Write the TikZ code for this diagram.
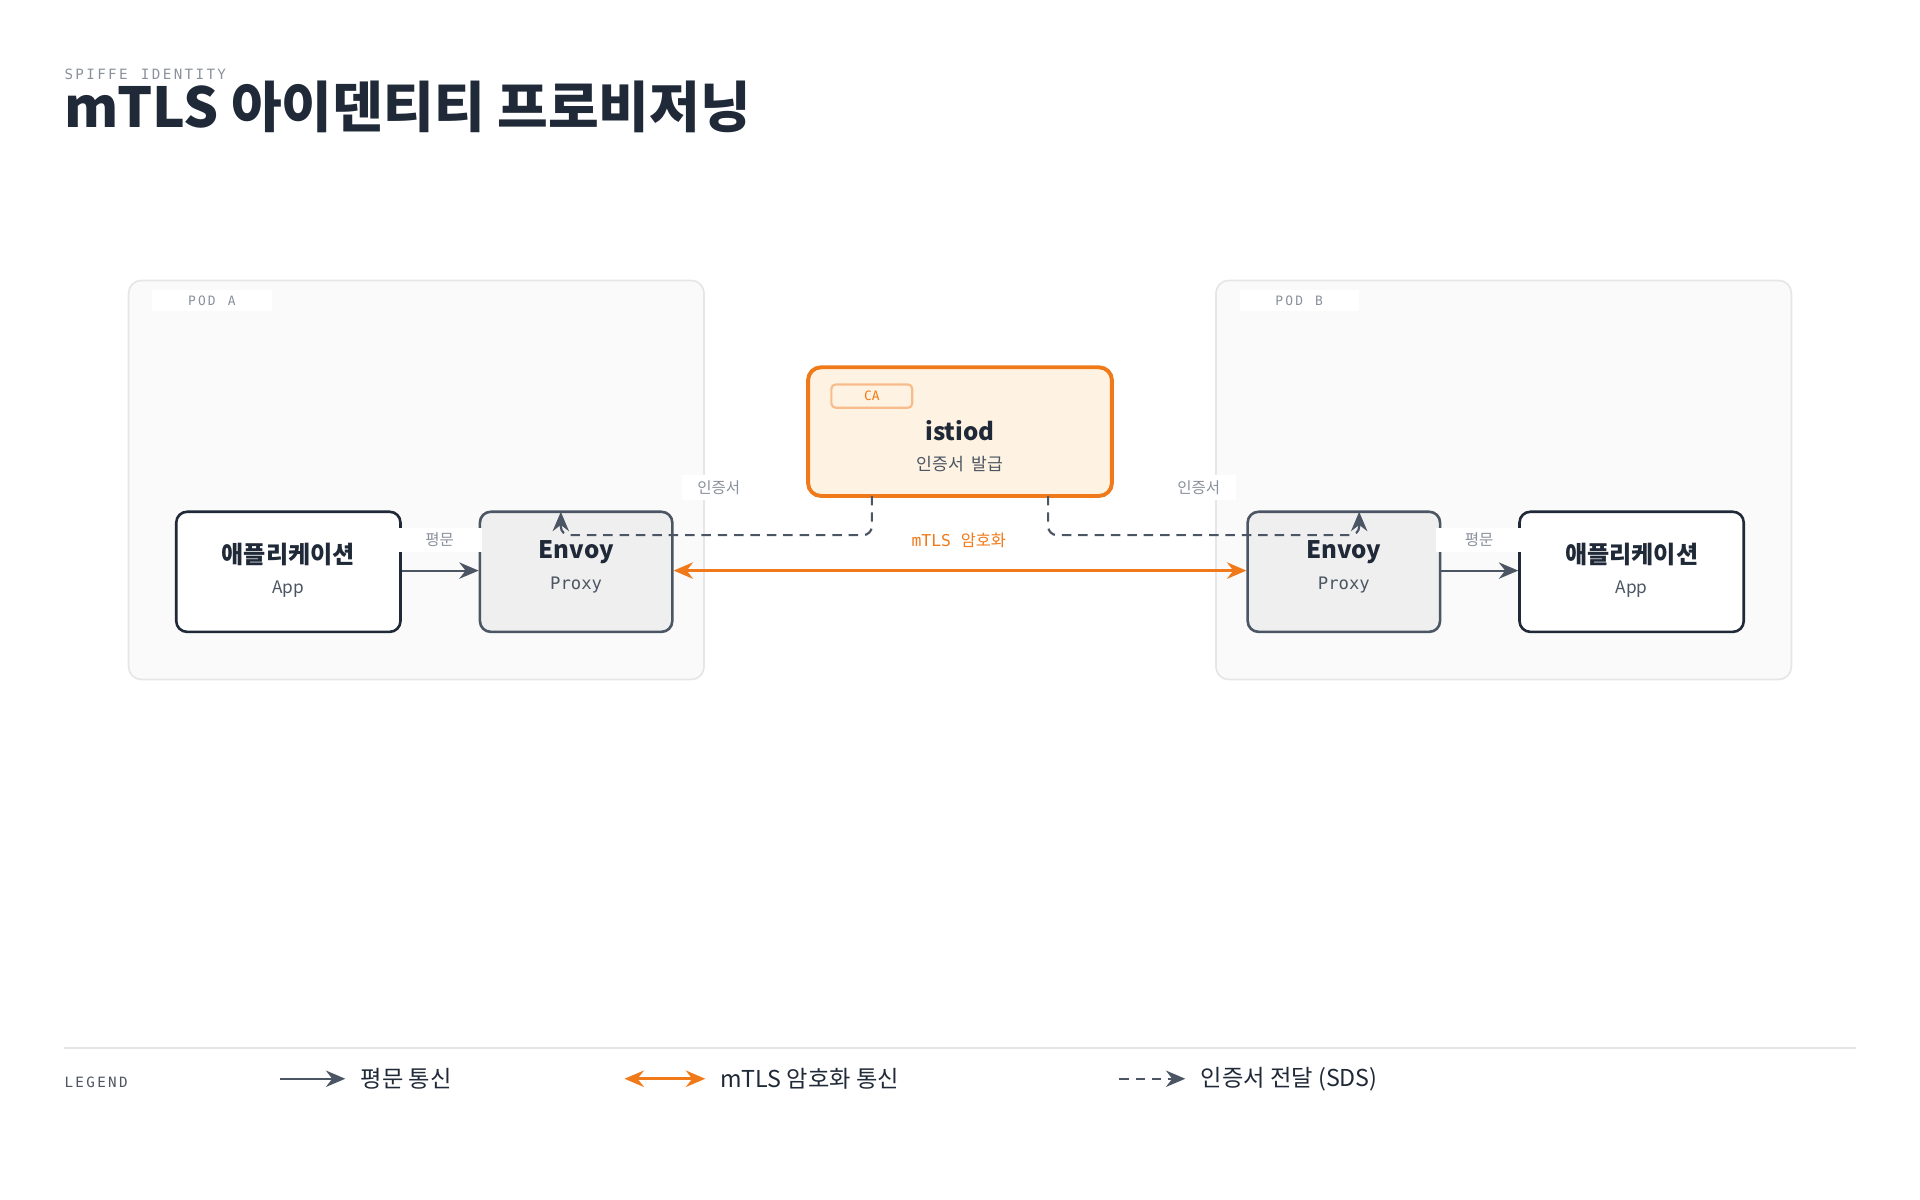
\documentclass[tikz,border=0pt]{standalone}
\usepackage{fontspec}
\setmainfont{Noto Sans CJK KR}
\setmonofont{DejaVu Sans Mono}
\newfontfamily\cjkmono{Noto Sans CJK KR}
\usetikzlibrary{positioning,arrows.meta}
\tikzset{>={Stealth[length=4.5pt,width=3.8pt]}}
\definecolor{inkColor}{HTML}{1F2937}
\definecolor{edgeColor}{HTML}{4B5563}
\definecolor{mutedColor}{HTML}{8A919C}
\definecolor{orangeColor}{HTML}{F07A1A}
\definecolor{orangeFill}{HTML}{FEF3E2}
\definecolor{podFill}{HTML}{FAFAFA}
\definecolor{podLine}{HTML}{E6E6E6}
\definecolor{proxyFill}{HTML}{EFEFEF}
\tikzset{
  pod/.style={draw=podLine, fill=podFill, rounded corners=3pt, line width=0.4pt},
  tag/.style={fill=white, inner sep=0pt, minimum height=0.17cm, font=\ttfamily\fontsize{3pt}{3pt}\selectfont, text=mutedColor},
  appbox/.style={draw=inkColor, fill=white, rounded corners=2.5pt, line width=0.6pt, minimum width=1.83cm, minimum height=0.98cm},
  proxybox/.style={draw=edgeColor, fill=proxyFill, rounded corners=2.5pt, line width=0.6pt, minimum width=1.57cm, minimum height=0.98cm},
  bigtext/.style={font=\bfseries\fontsize{5.6pt}{6pt}\selectfont, text=inkColor},
  subtext/.style={font=\fontsize{4pt}{4pt}\selectfont, text=edgeColor},
  lbl/.style={fill=white, inner sep=1.2pt, font=\fontsize{3.6pt}{4pt}\selectfont, text=mutedColor},
  plain/.style={->, edgeColor, line width=0.5pt},
  cert/.style={->, edgeColor, dashed, dash pattern=on 2.2pt off 1.6pt, line width=0.5pt, rounded corners=2pt},
  secure/.style={<->, orangeColor, line width=0.7pt},
  legendtext/.style={font=\fontsize{5.4pt}{6pt}\selectfont, text=inkColor, anchor=west, inner sep=0pt}
}
\begin{document}
\begin{tikzpicture}[x=0.01cm,y=-0.01cm]
\useasboundingbox (0,0) rectangle (1568,980);
% title
\node[anchor=west, inner sep=0pt, font=\ttfamily\fontsize{3.3pt}{4pt}\selectfont, text=mutedColor] (kicker) at (52,61) {S\,P\,I\,F\,F\,E\, \,I\,D\,E\,N\,T\,I\,T\,Y};
\node[anchor=west, inner sep=0pt, font=\bfseries\fontsize{12.8pt}{14pt}\selectfont, text=inkColor] (title) at (52,87) {mTLS 아이덴티티 프로비저닝};
% pods
\draw[pod] (105,229) rectangle (575,555);
\draw[pod] (993,229) rectangle (1463,555);
\node[tag, minimum width=0.98cm] (podA) at (173,245.5) {P\,O\,D\, \,A};
\node[tag, minimum width=0.97cm] (podB) at (1061,245.5) {P\,O\,D\, \,B};
% boxes
\node[appbox] (appA) at (235.5,467) {};
\node[bigtext] at (235.5,453) {애플리케이션};
\node[subtext] at (235.5,481) {App};
\node[proxybox] (envoyA) at (470.5,467) {};
\node[bigtext] at (470.5,451) {Envoy};
\node[subtext, font=\ttfamily\fontsize{4pt}{4pt}\selectfont] at (470.5,478) {Proxy};
\node[proxybox] (envoyB) at (1097.5,467) {};
\node[bigtext] at (1097.5,451) {Envoy};
\node[subtext, font=\ttfamily\fontsize{4pt}{4pt}\selectfont] at (1097.5,478) {Proxy};
\node[appbox] (appB) at (1332.5,467) {};
\node[bigtext] at (1332.5,453) {애플리케이션};
\node[subtext] at (1332.5,481) {App};
% istiod
\node[draw=orangeColor, fill=orangeFill, line width=0.9pt, rounded corners=3pt, minimum width=2.48cm, minimum height=1.05cm] (istiod) at (784,352.5) {};
\node[draw=orangeColor!50, fill=orangeFill, rounded corners=1pt, line width=0.5pt, minimum width=0.66cm, minimum height=0.19cm, inner sep=0pt, font=\ttfamily\fontsize{3pt}{3pt}\selectfont, text=orangeColor] (ca) at (712,323.5) {CA};
\node[font=\bfseries\fontsize{5.6pt}{6pt}\selectfont, text=inkColor] at (784,352) {istiod};
\node[subtext] at (784,379) {인증서\ \ 발급};
% connectors
\coordinate (certA) at (712,405);
\coordinate (certB) at (856,405);
\draw[plain] (appA.east |- 0,466) -- (envoyA.west |- 0,466);
\draw[plain] (envoyB.east |- 0,466) -- (appB.west |- 0,466);
\draw[secure] (envoyA.east |- 0,466) -- (envoyB.west |- 0,466);
\draw[cert] (certA) -- (712,437) -- (458,437) -- (458,418);
\draw[cert] (certB) -- (856,437) -- (1110,437) -- (1110,418);
\node[lbl, minimum width=0.7cm] (plainA) at (359,441) {평문};
\node[lbl, minimum width=0.7cm] (plainB) at (1208,441) {평문};
\node[lbl, minimum width=0.6cm] (certLblA) at (587,398) {인증서};
\node[lbl, minimum width=0.6cm] (certLblB) at (979,398) {인증서};
\node[font=\fontsize{3.8pt}{4pt}\selectfont, text=orangeColor] (mtls) at (783,441) {\ttfamily mTLS\ {\cjkmono 암호화}};
% legend
\draw[podLine, line width=0.5pt] (52,856) -- (1516,856);
\node[anchor=west, inner sep=0pt, font=\ttfamily\fontsize{3.3pt}{4pt}\selectfont, text=edgeColor] (legend) at (52,884) {L\,E\,G\,E\,N\,D};
\coordinate (lp1) at (229,881); \coordinate (lp2) at (282,881);
\draw[plain] (lp1) -- (lp2);
\node[legendtext] (lgPlain) at (294,881) {평문 통신};
\coordinate (ls1) at (510,881); \coordinate (ls2) at (576,881);
\draw[secure] (ls1) -- (ls2);
\node[legendtext] (lgSecure) at (588,881) {mTLS 암호화 통신};
\coordinate (lc1) at (914,881); \coordinate (lc2) at (968,881);
\draw[cert] (lc1) -- (lc2);
\node[legendtext] (lgCert) at (980,881) {인증서 전달 (SDS)};
\end{tikzpicture}
\end{document}
